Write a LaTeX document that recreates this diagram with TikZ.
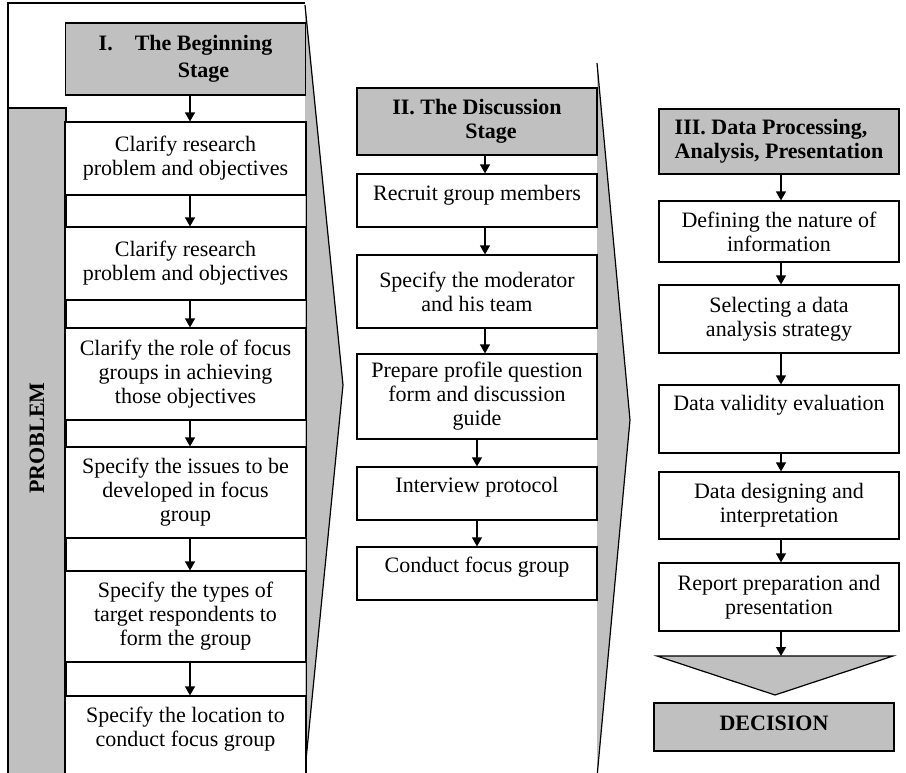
\documentclass[tikz,border=0pt]{standalone}
\usepackage{fontspec}
\setmainfont{Liberation Serif}
\usetikzlibrary{arrows.meta}
\definecolor{stagegray}{RGB}{192,192,192}

\begin{document}
\begin{tikzpicture}[x=0.5pt,y=-0.5pt,line width=0.6pt,
        font=\fontsize{11}{12}\selectfont,
        box/.style={draw,fill=white,align=center,minimum width=120pt,inner sep=2pt},
        stagebox/.style={box,fill=stagegray,font=\fontsize{11}{12}\selectfont\bfseries},
        upper/.style={text depth=#1},
        flow/.style={-{Triangle[length=4.5pt,width=5pt]}}]
    \useasboundingbox (0,0) rectangle (906,772);
    \draw (305,3) -- (8,3) -- (8,108);
    \draw[fill=stagegray] (8,790) -- (8,108) -- (66,108) -- (66,790);
    \node[rotate=90,font=\fontsize{11}{12}\selectfont\bfseries] (problem) at (37,438) {PROBLEM};
    \draw[fill=stagegray] (305,5) -- (343,385) -- (305,770);
    \draw[fill=stagegray] (597,63) -- (630,420) -- (597,777);

    \node[stagebox,minimum height=36pt] (h1) at (185.5,59) {I.\quad\begin{tabular}[t]{@{}c@{}}The Beginning\\[1.5pt]Stage\end{tabular}};
    \node[box,minimum height=36.5pt] (b1) at (185.5,158.5) {Clarify research\\problem and objectives};
    \node[box,minimum height=36.5pt] (b2) at (185.5,263.5) {Clarify research\\problem and objectives};
    \node[box,minimum height=46pt] (b3) at (185.5,374) {Clarify the role of focus\\groups in achieving\\those objectives};
    \node[box,minimum height=45.5pt] (b4) at (185.5,492.5) {Specify the issues to be\\developed in focus\\group};
    \node[box,minimum height=45.5pt] (b5) at (185.5,616.5) {Specify the types of\\target respondents to\\form the group};
    \node[box,minimum height=47pt,upper=16pt] (b6) at (185.5,743) {Specify the location to\\conduct focus group};
    \draw (b1.north west) rectangle (b6.south east);

    \node[stagebox,minimum height=33.5pt] (h2) at (477,121.5) {II. \begin{tabular}[t]{@{}c@{}}The Discussion\\Stage\end{tabular}};
    \node[box,minimum height=26.5pt,upper=8pt] (c1) at (477,200.5) {Recruit group members};
    \node[box,minimum height=36.5pt] (c2) at (477,291.5) {Specify the moderator\\and his team};
    \node[box,minimum height=42.5pt] (c3) at (477,396.5) {Prepare profile question\\form and discussion\\guide};
    \node[box,minimum height=26.5pt,upper=9pt] (c4) at (477,493.5) {Interview protocol};
    \node[box,minimum height=26.5pt,upper=8.5pt] (c5) at (477,573.5) {Conduct focus group};

    \node[stagebox,minimum height=32.5pt,align=left] (h3) at (779,141.5) {III. Data Processing,\\Analysis, Presentation};
    \node[box,minimum height=30.5pt] (d1) at (779,231.5) {Defining the nature of\\information};
    \node[box,minimum height=34pt] (d2) at (779,319) {Selecting a data\\analysis strategy};
    \node[box,minimum height=34pt,upper=16.5pt] (d3) at (779,419) {Data validity evaluation};
    \node[box,minimum height=33.5pt] (d4) at (779,505.5) {Data designing and\\interpretation};
    \node[box,minimum height=34pt] (d5) at (779,597) {Report preparation and\\presentation};
    \draw[fill=stagegray] (657,656) -- (893,656) -- (775,695) -- cycle;
    \coordinate (vtop) at (781,656);
    \node[stagebox,minimum height=24pt,upper=4pt] (dec) at (774,727) {DECISION};

    \foreach \a/\b in {h1/b1,b1/b2,b2/b3,b3/b4,b4/b5,b5/b6}
        \draw[flow] ([xshift=2.25pt]\a.south) -- ([xshift=2.25pt]\b.north);
    \foreach \a/\b/\s in {h2/c1/4pt,c1/c2/4pt,c2/c3/4pt,c3/c4/0pt,c4/c5/0pt}
        \draw[flow] ([xshift=\s]\a.south) -- ([xshift=\s]\b.north);
    \foreach \a/\b in {h3/d1,d1/d2,d2/d3,d3/d4,d4/d5}
        \draw[flow] ([xshift=1pt]\a.south) -- ([xshift=1pt]\b.north);
    \draw[flow] (d5.south -| vtop) -- (vtop);
\end{tikzpicture}
\end{document}
